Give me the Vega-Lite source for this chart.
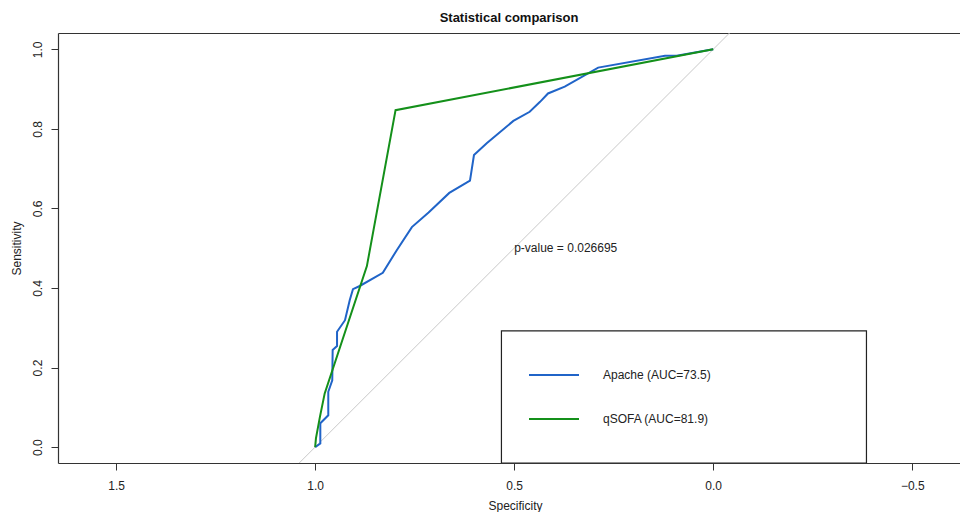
{
  "$schema": "https://vega.github.io/schema/vega-lite/v6.json",
  "width": 902,
  "height": 430,
  "autosize": {"type": "none"},
  "padding": {"left": 58, "top": 33, "right": 0, "bottom": 49},
  "background": "white",
  "config": {
    "font": "Liberation Sans",
    "view": {"stroke": null},
    "axis": {"grid": false, "domainColor": "#333333", "tickColor": "#333333", "labelColor": "#222222", "titleColor": "#222222", "labelFontSize": 12, "titleFontSize": 12, "titleFontWeight": "normal", "labelFont": "Liberation Sans", "titleFont": "Liberation Sans", "tickSize": 7, "domainWidth": 1.2}
  },
  "title": {"text": "Statistical comparison", "fontSize": 13, "fontWeight": "bold", "font": "Liberation Sans", "color": "#111111", "anchor": "middle", "offset": 8},
  "resolve": {"axis": {"x": "independent"}},
  "datasets": {
    "roc": [
      {"series": "Apache (AUC=73.5)", "i": 1, "spec": 1.0, "sens": 0.0},
      {"series": "Apache (AUC=73.5)", "i": 2, "spec": 0.987, "sens": 0.009},
      {"series": "Apache (AUC=73.5)", "i": 3, "spec": 0.987, "sens": 0.06},
      {"series": "Apache (AUC=73.5)", "i": 4, "spec": 0.967, "sens": 0.08},
      {"series": "Apache (AUC=73.5)", "i": 5, "spec": 0.967, "sens": 0.139},
      {"series": "Apache (AUC=73.5)", "i": 6, "spec": 0.957, "sens": 0.168},
      {"series": "Apache (AUC=73.5)", "i": 7, "spec": 0.956, "sens": 0.244},
      {"series": "Apache (AUC=73.5)", "i": 8, "spec": 0.945, "sens": 0.254},
      {"series": "Apache (AUC=73.5)", "i": 9, "spec": 0.945, "sens": 0.29},
      {"series": "Apache (AUC=73.5)", "i": 10, "spec": 0.925, "sens": 0.319},
      {"series": "Apache (AUC=73.5)", "i": 11, "spec": 0.913, "sens": 0.37},
      {"series": "Apache (AUC=73.5)", "i": 12, "spec": 0.905, "sens": 0.397},
      {"series": "Apache (AUC=73.5)", "i": 13, "spec": 0.888, "sens": 0.405},
      {"series": "Apache (AUC=73.5)", "i": 14, "spec": 0.83, "sens": 0.438},
      {"series": "Apache (AUC=73.5)", "i": 15, "spec": 0.795, "sens": 0.495},
      {"series": "Apache (AUC=73.5)", "i": 16, "spec": 0.757, "sens": 0.553},
      {"series": "Apache (AUC=73.5)", "i": 17, "spec": 0.715, "sens": 0.59},
      {"series": "Apache (AUC=73.5)", "i": 18, "spec": 0.663, "sens": 0.639},
      {"series": "Apache (AUC=73.5)", "i": 19, "spec": 0.611, "sens": 0.67},
      {"series": "Apache (AUC=73.5)", "i": 20, "spec": 0.601, "sens": 0.734},
      {"series": "Apache (AUC=73.5)", "i": 21, "spec": 0.569, "sens": 0.764},
      {"series": "Apache (AUC=73.5)", "i": 22, "spec": 0.502, "sens": 0.82},
      {"series": "Apache (AUC=73.5)", "i": 23, "spec": 0.461, "sens": 0.843},
      {"series": "Apache (AUC=73.5)", "i": 24, "spec": 0.435, "sens": 0.868},
      {"series": "Apache (AUC=73.5)", "i": 25, "spec": 0.415, "sens": 0.889},
      {"series": "Apache (AUC=73.5)", "i": 26, "spec": 0.373, "sens": 0.906},
      {"series": "Apache (AUC=73.5)", "i": 27, "spec": 0.289, "sens": 0.954},
      {"series": "Apache (AUC=73.5)", "i": 28, "spec": 0.121, "sens": 0.984},
      {"series": "Apache (AUC=73.5)", "i": 29, "spec": 0.092, "sens": 0.984},
      {"series": "Apache (AUC=73.5)", "i": 30, "spec": 0.0, "sens": 1.0},
      {"series": "qSOFA (AUC=81.9)", "i": 1, "spec": 1.0, "sens": 0.0},
      {"series": "qSOFA (AUC=81.9)", "i": 2, "spec": 0.998, "sens": 0.022},
      {"series": "qSOFA (AUC=81.9)", "i": 3, "spec": 0.988, "sens": 0.076},
      {"series": "qSOFA (AUC=81.9)", "i": 4, "spec": 0.976, "sens": 0.135},
      {"series": "qSOFA (AUC=81.9)", "i": 5, "spec": 0.87, "sens": 0.455},
      {"series": "qSOFA (AUC=81.9)", "i": 6, "spec": 0.798, "sens": 0.847},
      {"series": "qSOFA (AUC=81.9)", "i": 7, "spec": 0.0, "sens": 1.0}
    ],
    "diag": [
      {"spec": 1.06, "sens": -0.06},
      {"spec": -0.06, "sens": 1.06}
    ],
    "box": [
      {"x1": 0.532, "x2": -0.385, "y1": 0.292, "y2": -0.04}
    ],
    "note": [
      {"spec": 0.5, "sens": 0.5, "label": "p-value = 0.026695"}
    ]
  },
  "layer": [
    {
      "data": {"name": "diag"},
      "mark": {"type": "line", "color": "#c8c8c8", "strokeWidth": 1, "clip": true},
      "encoding": {
        "x": {"field": "spec", "type": "quantitative", "scale": {"domain": [-0.62, 1.646], "reverse": true, "nice": false, "zero": false},
          "axis": {"orient": "bottom", "values": [1.5, 1.0, 0.5, 0.0, -0.5], "format": ".1f", "title": "Specificity", "labelPadding": 10, "titlePadding": 9, "titleX": 457}},
        "y": {"field": "sens", "type": "quantitative", "scale": {"domain": [-0.04, 1.041], "nice": false, "zero": false},
          "axis": {"values": [0, 0.2, 0.4, 0.6, 0.8, 1.0], "format": ".1f", "title": "Sensitivity", "labelAngle": 270, "labelAlign": "center", "labelBaseline": "bottom", "labelPadding": 7, "titlePadding": 8}}
      }
    },
    {
      "data": {"name": "diag"},
      "mark": {"type": "point", "opacity": 0},
      "encoding": {
        "x": {"field": "spec", "type": "quantitative", "axis": {"orient": "top", "labels": false, "ticks": false, "title": null}}
      }
    },
    {
      "data": {"name": "roc"},
      "mark": {"type": "line", "strokeWidth": 2, "clip": true},
      "encoding": {
        "x": {"field": "spec", "type": "quantitative", "axis": null},
        "y": {"field": "sens", "type": "quantitative"},
        "order": {"field": "i", "type": "quantitative"},
        "color": {"field": "series", "type": "nominal",
          "scale": {"domain": ["Apache (AUC=73.5)", "qSOFA (AUC=81.9)"], "range": ["#2064c8", "#14901a"]},
          "legend": {"orient": "none", "legendX": 470, "legendY": 316, "title": null, "symbolType": "stroke", "symbolSize": 2500, "symbolStrokeWidth": 2, "rowPadding": 12, "labelOffset": 23, "labelFontSize": 12, "labelFont": "Liberation Sans", "labelColor": "#222222", "padding": 0}}
      }
    },
    {
      "data": {"name": "box"},
      "mark": {"type": "rect", "fill": null, "stroke": "#222222", "strokeWidth": 1.2, "clip": true},
      "encoding": {
        "x": {"field": "x1", "type": "quantitative", "axis": null},
        "x2": {"field": "x2"},
        "y": {"field": "y1", "type": "quantitative"},
        "y2": {"field": "y2"}
      }
    },
    {
      "data": {"name": "note"},
      "mark": {"type": "text", "align": "left", "baseline": "middle", "fontSize": 12, "font": "Liberation Sans", "color": "#222222"},
      "encoding": {
        "x": {"field": "spec", "type": "quantitative", "axis": null},
        "y": {"field": "sens", "type": "quantitative"},
        "text": {"field": "label"}
      }
    }
  ]
}
